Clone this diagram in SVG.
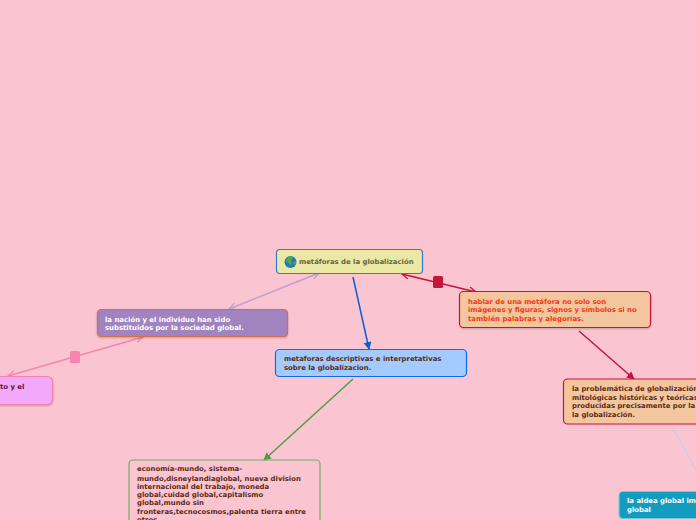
<svg xmlns="http://www.w3.org/2000/svg" width="696" height="520" viewBox="0 0 696 520">
<style>
text{font-family:"DejaVu Sans",Verdana,sans-serif;font-weight:700;font-size:6.9px}
.n{stroke-width:1.2}
.c{fill:none;stroke-width:1.5}
.s{fill:#000;opacity:.22;filter:blur(.8px)}
</style>
<defs>
<marker id="open" markerWidth="10" markerHeight="10" refX="8" refY="4" orient="auto-start-reverse" markerUnits="userSpaceOnUse"><path d="M1 0.5L8 4L1 7.5" fill="none" stroke="context-stroke" stroke-width="1.3"/></marker>
<marker id="solid" markerWidth="10" markerHeight="10" refX="7" refY="4" orient="auto" markerUnits="userSpaceOnUse"><path d="M0 0L8 4L0 8Z" fill="context-stroke"/></marker>
</defs>
<rect width="696" height="520" fill="#fac5d1"/>
<g id="connectors">
<path class="c" d="M319 273L229 309" stroke="#bb9fd0" marker-start="url(#open)" marker-end="url(#open)"/>
<path class="c" d="M143 337L8 376" stroke="#f585ad" marker-start="url(#open)" marker-end="url(#open)"/>
<rect x="70" y="351" width="10" height="12" rx="1.5" fill="#f585ad"/>
<path class="c" d="M402 274L476 292" stroke="#c8133c" marker-start="url(#open)" marker-end="url(#open)"/>
<rect x="433" y="276" width="10" height="12" rx="1.5" fill="#c8133c"/>
<path class="c" d="M353 277L369 349" stroke="#0a5fd0" marker-end="url(#solid)"/>
<path class="c" d="M353 379L264 460" stroke="#4f9e45" marker-end="url(#solid)"/>
<path class="c" d="M579 331L634 379" stroke="#c8133c" marker-end="url(#solid)"/>
<path class="c" d="M673 428L696 470" stroke="#c9cfe6"/>
</g>
<g id="root">
<rect class="n" x="276.500" y="249.500" width="146" height="24" rx="3.500" fill="#ebe8a5" stroke="#2f7fd0"/>
<circle cx="290.500" cy="262" r="6" fill="#1f78c4"/>
<path d="M287 257.500l4-1.500 2 2-2 2 1 3-2 3-1-3-3-1zM293 262l2.500-1 .5 3-2 1z" fill="#54a845"/>
<text x="299" y="264" fill="#66643a">metáforas de la globalización</text>
</g>
<g id="nacion">
<rect class="s" x="97" y="310" width="191" height="28" rx="4"/>
<rect class="n" x="97.500" y="309.500" width="190" height="27" rx="4" fill="#a083bf" stroke="#d0704e"/>
<text x="105" y="322" fill="#fff">la nación y el individuo han sido</text>
<text x="105" y="330" fill="#fff">substituidos por la sociedad global.</text>
</g>
<g id="pink">
<rect class="s" x="-10" y="378" width="63" height="28" rx="5"/>
<rect class="n" x="-10" y="376.500" width="62.500" height="28" rx="5" fill="#f3a9fb" stroke="#f585ad"/>
<text x="0" y="389" fill="#5a1040">to y el</text>
</g>
<g id="descriptivas">
<rect class="n" x="275.500" y="349.500" width="191" height="27" rx="4" fill="#a3cbff" stroke="#0a6fe0"/>
<text x="284" y="361" fill="#5c2a10">metaforas descriptivas e interpretativas</text>
<text x="284" y="370" fill="#5c2a10">sobre la globalizacion.</text>
</g>
<g id="hablar">
<rect class="s" x="460" y="293" width="191" height="36" rx="4"/>
<rect class="n" x="459.500" y="291.500" width="191" height="36" rx="4" fill="#f4c6a0" stroke="#c8133c"/>
<text x="468" y="304" fill="#f03a10">hablar de una metáfora no solo son</text>
<text x="468" y="312" fill="#f03a10">imágenes y figuras, signos y símbolos si no</text>
<text x="468" y="321" fill="#f03a10">también palabras y alegorías.</text>
</g>
<g id="problematica">
<rect class="n" x="563.500" y="379" width="150" height="45" rx="4" fill="#f4c6a0" stroke="#c8133c"/>
<text x="572" y="391" fill="#5c2a10">la problemática de globalización</text>
<text x="572" y="400" fill="#5c2a10">mitológicas históricas y teóricas</text>
<text x="572" y="408" fill="#5c2a10">producidas precisamente por la</text>
<text x="572" y="417" fill="#5c2a10">la globalización.</text>
</g>
<g id="economia">
<rect class="n" x="129" y="460" width="191" height="80" rx="4" fill="#fac5d1" stroke="#6fae62"/>
<g fill="#5c2a10">
<text x="137" y="471">economía-mundo, sistema-</text>
<text x="137" y="480.500">mundo,disneylandiaglobal, nueva division</text>
<text x="137" y="488.500">internacional del trabajo, moneda</text>
<text x="137" y="497">global,cuidad global,capitalismo</text>
<text x="137" y="505">global,mundo sin</text>
<text x="137" y="514">fronteras,tecnocosmos,palenta tierra entre</text>
<text x="137" y="522">otros</text>
</g>
</g>
<g id="aldea">
<rect class="n" x="619" y="491.500" width="100" height="27" rx="4" fill="#129dc0" stroke="#7fc5dd"/>
<text x="627" y="503" fill="#fff">la aldea global im</text>
<text x="627" y="512" fill="#fff">global</text>
</g>
</svg>
